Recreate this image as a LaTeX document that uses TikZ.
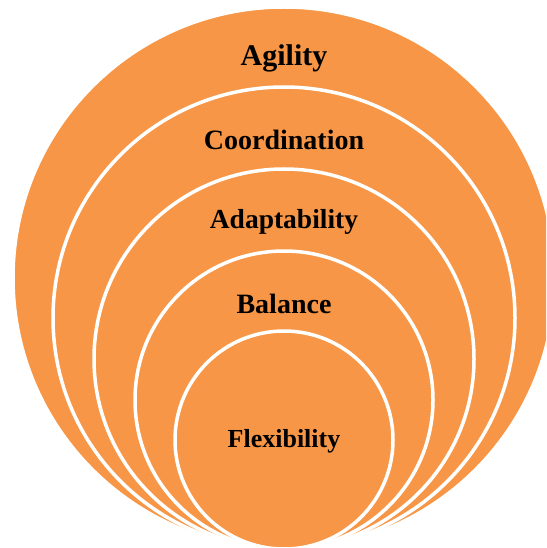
\documentclass[tikz,border=0pt]{standalone}
\usepackage{fontspec}
\setmainfont{Liberation Serif}
\definecolor{ringorange}{HTML}{F79646}
\begin{document}
\begin{tikzpicture}[x=1pt,y=-1pt,
  ring/.style={fill=ringorange,draw=white,line width=3.5pt},
  label/.style={font=\bfseries,text=black,inner sep=0pt}]
\useasboundingbox (0,0) rectangle (546,548);
\clip (0,0) rectangle (546,548);
% nested rings, all touching at the bottom
\filldraw[ring] (284,278) circle (271);
\filldraw[ring] (284,318) circle (231);
\filldraw[ring] (284,359) circle (190);
\filldraw[ring] (284,400) circle (149);
\filldraw[ring] (284,440) circle (109);
% ring labels
\node[label,font=\bfseries\fontsize{30}{30}\selectfont] (agility) at (284,58) {Agility};
\node[label,font=\bfseries\fontsize{28}{28}\selectfont] (coord) at (284,140) {Coordination};
\node[label,font=\bfseries\fontsize{27.5}{27.5}\selectfont] (adapt) at (284,222) {Adaptability};
\node[label,font=\bfseries\fontsize{28}{28}\selectfont] (balance) at (284,304) {Balance};
\node[label,font=\bfseries\fontsize{26}{26}\selectfont] (flex) at (284,441) {Flexibility};
\end{tikzpicture}
\end{document}
